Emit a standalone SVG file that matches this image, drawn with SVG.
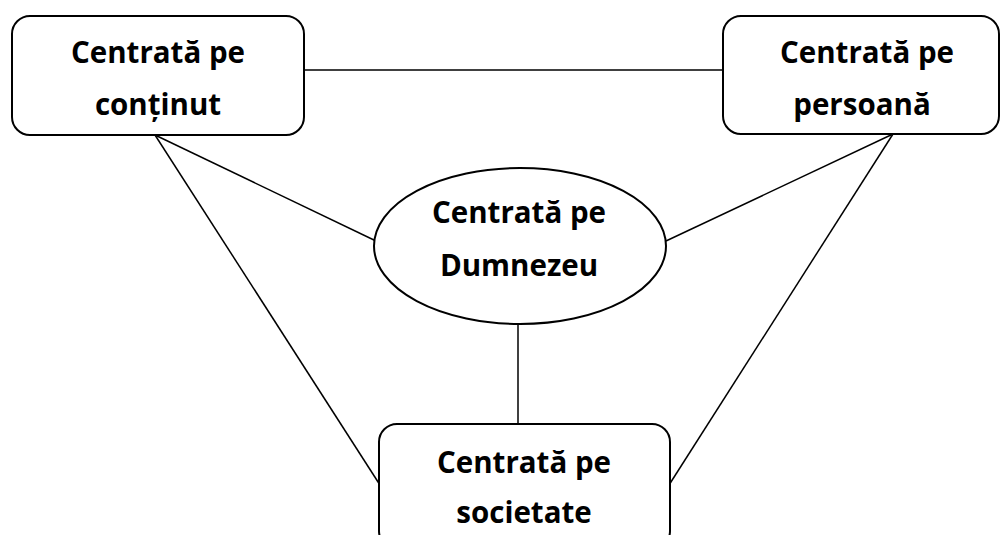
<svg xmlns="http://www.w3.org/2000/svg" width="1000" height="535" viewBox="0 0 1000 535">
<style>
.box{fill:#fff;stroke:#000;stroke-width:2}
.ln{stroke:#000;stroke-width:1.5;fill:none}
text{font-family:"Open Sans","Liberation Sans",sans-serif;font-weight:bold;font-size:29.5px;text-anchor:middle;fill:#000}
</style>
<rect width="1000" height="535" fill="#fff"/>
<g id="connectors">
<line class="ln" x1="304" y1="70" x2="723" y2="70"/>
<line class="ln" x1="155" y1="135" x2="376" y2="241"/>
<line class="ln" x1="155" y1="135" x2="380" y2="485"/>
<line class="ln" x1="893" y1="134" x2="666" y2="241"/>
<line class="ln" x1="893" y1="134" x2="669" y2="485"/>
<line class="ln" x1="518" y1="324" x2="518" y2="424"/>
</g>
<g id="node-continut">
<rect class="box" x="12" y="16" width="292" height="119" rx="18"/>
<text x="158" y="63">Centrată pe</text>
<text x="158" y="115">conținut</text>
</g>
<g id="node-persoana">
<rect class="box" x="723" y="16" width="276" height="118" rx="18"/>
<text x="867" y="63">Centrată pe</text>
<text x="862" y="115">persoană</text>
</g>
<g id="node-dumnezeu">
<ellipse class="box" cx="520" cy="246" rx="146" ry="78"/>
<text x="519" y="223">Centrată pe</text>
<text x="519" y="276">Dumnezeu</text>
</g>
<g id="node-societate">
<rect class="box" x="379" y="424" width="291" height="125" rx="18"/>
<text x="524" y="473">Centrată pe</text>
<text x="524" y="523">societate</text>
</g>
</svg>
